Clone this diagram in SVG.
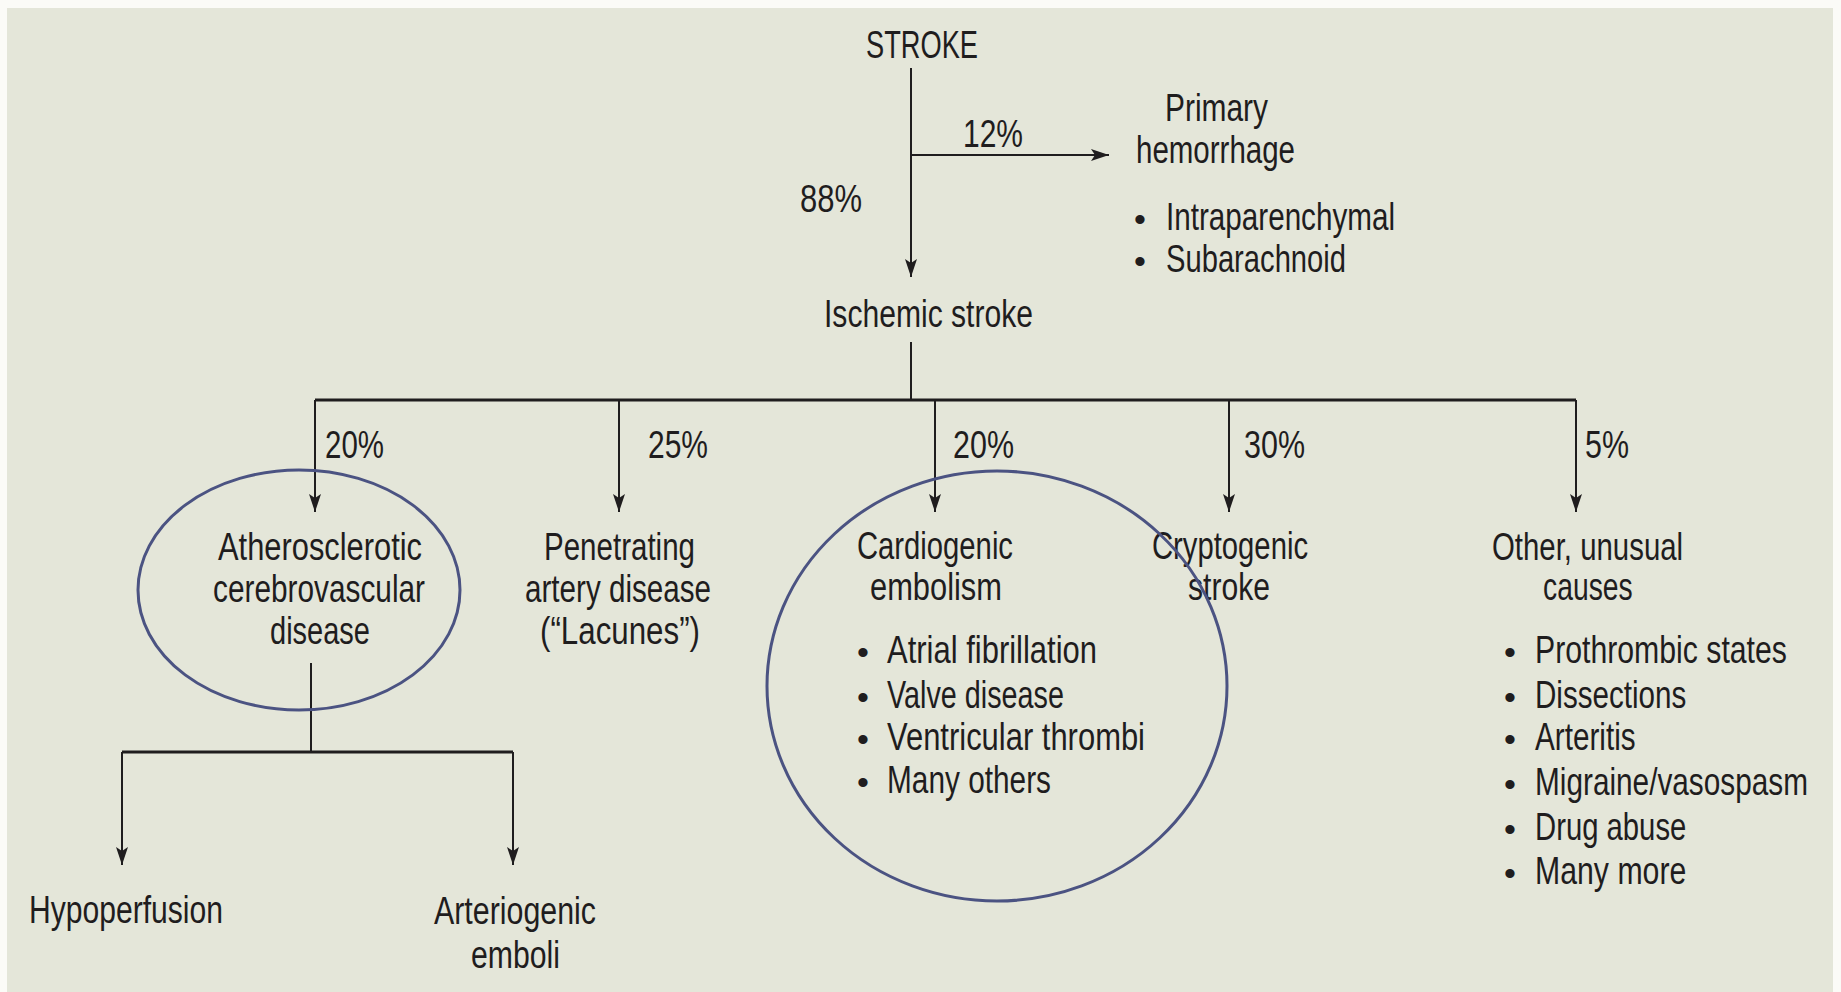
<svg xmlns="http://www.w3.org/2000/svg" width="1841" height="992" viewBox="0 0 1841 992">
<defs>
<style>
.t{font-family:"Liberation Sans",Arial,sans-serif;font-size:38px;fill:#1f1d1e;}
.b{font-family:"Liberation Sans",Arial,sans-serif;font-size:34px;fill:#1f1d1e;text-anchor:middle;}
.c{stroke:#1f1d1e;stroke-width:2;fill:none;}
.bus{stroke:#1f1d1e;stroke-width:3;fill:none;}
.ring{stroke:#4b5382;stroke-width:3;fill:none;}
</style>
<marker id="ah" viewBox="0 0 18 12" refX="18" refY="6" markerWidth="18" markerHeight="12" orient="auto" markerUnits="userSpaceOnUse">
<path d="M0,0 L18,6 L0,12 L4,6 z" fill="#1f1d1e"/>
</marker>
</defs>
<rect x="0" y="0" width="1841" height="992" fill="#fbfbf7"/>
<rect x="7" y="8" width="1826" height="984" fill="#e4e6d9"/>

<g id="connectors">
<path class="c" d="M911,68 V277" marker-end="url(#ah)"/>
<path class="c" d="M911,155 H1109" marker-end="url(#ah)"/>
<path class="c" d="M911,342 V400"/>
<path class="bus" d="M315,400 H1576"/>
<path class="c" d="M315,400 V512" marker-end="url(#ah)"/>
<path class="c" d="M619,400 V512" marker-end="url(#ah)"/>
<path class="c" d="M935,400 V512" marker-end="url(#ah)"/>
<path class="c" d="M1229,400 V512" marker-end="url(#ah)"/>
<path class="c" d="M1576,400 V512" marker-end="url(#ah)"/>
<path class="c" d="M311,663 V752"/>
<path class="bus" d="M122,752 H513"/>
<path class="c" d="M122,752 V865" marker-end="url(#ah)"/>
<path class="c" d="M513,752 V865" marker-end="url(#ah)"/>
<text class="t" x="963" y="147" textLength="60" lengthAdjust="spacingAndGlyphs">12%</text>
<text class="t" x="800" y="212" textLength="62" lengthAdjust="spacingAndGlyphs">88%</text>
<text class="t" x="325" y="458" textLength="59" lengthAdjust="spacingAndGlyphs">20%</text>
<text class="t" x="648" y="458" textLength="60" lengthAdjust="spacingAndGlyphs">25%</text>
<text class="t" x="953" y="458" textLength="61" lengthAdjust="spacingAndGlyphs">20%</text>
<text class="t" x="1244" y="458" textLength="61" lengthAdjust="spacingAndGlyphs">30%</text>
<text class="t" x="1585" y="458" textLength="44" lengthAdjust="spacingAndGlyphs">5%</text>
</g>

<g id="stroke">
<text class="t" x="866" y="58" textLength="112" lengthAdjust="spacingAndGlyphs">STROKE</text>
</g>

<g id="hemorrhage">
<text class="t" x="1165" y="121" textLength="103" lengthAdjust="spacingAndGlyphs">Primary</text>
<text class="t" x="1136" y="163" textLength="159" lengthAdjust="spacingAndGlyphs">hemorrhage</text>
<text class="b" x="1140" y="231">•</text>
<text class="t" x="1166" y="230" textLength="229" lengthAdjust="spacingAndGlyphs">Intraparenchymal</text>
<text class="b" x="1140" y="273">•</text>
<text class="t" x="1166" y="272" textLength="180" lengthAdjust="spacingAndGlyphs">Subarachnoid</text>
</g>

<g id="ischemic">
<text class="t" x="824" y="327" textLength="209" lengthAdjust="spacingAndGlyphs">Ischemic stroke</text>
</g>

<g id="atherosclerotic">
<text class="t" x="218" y="560" textLength="204" lengthAdjust="spacingAndGlyphs">Atherosclerotic</text>
<text class="t" x="213" y="602" textLength="212" lengthAdjust="spacingAndGlyphs">cerebrovascular</text>
<text class="t" x="270" y="644" textLength="100" lengthAdjust="spacingAndGlyphs">disease</text>
<ellipse class="ring" cx="299" cy="590" rx="161" ry="120"/>
</g>

<g id="penetrating">
<text class="t" x="544" y="560" textLength="151" lengthAdjust="spacingAndGlyphs">Penetrating</text>
<text class="t" x="525" y="602" textLength="186" lengthAdjust="spacingAndGlyphs">artery disease</text>
<text class="t" x="540" y="644" textLength="160" lengthAdjust="spacingAndGlyphs">(“Lacunes”)</text>
</g>

<g id="cardiogenic">
<text class="t" x="857" y="559" textLength="156" lengthAdjust="spacingAndGlyphs">Cardiogenic</text>
<text class="t" x="870" y="600" textLength="132" lengthAdjust="spacingAndGlyphs">embolism</text>
<text class="b" x="863" y="664">•</text>
<text class="t" x="887" y="663" textLength="210" lengthAdjust="spacingAndGlyphs">Atrial fibrillation</text>
<text class="b" x="863" y="709">•</text>
<text class="t" x="887" y="708" textLength="177" lengthAdjust="spacingAndGlyphs">Valve disease</text>
<text class="b" x="863" y="751">•</text>
<text class="t" x="887" y="750" textLength="258" lengthAdjust="spacingAndGlyphs">Ventricular thrombi</text>
<text class="b" x="863" y="794">•</text>
<text class="t" x="887" y="793" textLength="164" lengthAdjust="spacingAndGlyphs">Many others</text>
</g>

<g id="cryptogenic">
<text class="t" x="1152" y="559" textLength="156" lengthAdjust="spacingAndGlyphs">Cryptogenic</text>
<text class="t" x="1188" y="600" textLength="82" lengthAdjust="spacingAndGlyphs">stroke</text>
</g>

<g id="cardio-ring">
<ellipse class="ring" cx="997" cy="686" rx="230" ry="215"/>
</g>

<g id="other">
<g transform="translate(1492,560) scale(0.78,1)"><text class="t" x="0" y="0" textLength="245" lengthAdjust="spacingAndGlyphs">Other, unusual</text></g>
<g transform="translate(1543,600) scale(0.78,1)"><text class="t" x="0" y="0" textLength="115" lengthAdjust="spacingAndGlyphs">causes</text></g>
<text class="b" x="1510" y="664">•</text>
<g transform="translate(1535,663) scale(0.78,1)"><text class="t" x="0" y="0" textLength="323" lengthAdjust="spacingAndGlyphs">Prothrombic states</text></g>
<text class="b" x="1510" y="709">•</text>
<g transform="translate(1535,708) scale(0.78,1)"><text class="t" x="0" y="0" textLength="194" lengthAdjust="spacingAndGlyphs">Dissections</text></g>
<text class="b" x="1510" y="751">•</text>
<g transform="translate(1535,750) scale(0.78,1)"><text class="t" x="0" y="0" textLength="129" lengthAdjust="spacingAndGlyphs">Arteritis</text></g>
<text class="b" x="1510" y="796">•</text>
<g transform="translate(1535,795) scale(0.78,1)"><text class="t" x="0" y="0" textLength="350" lengthAdjust="spacingAndGlyphs">Migraine/vasospasm</text></g>
<text class="b" x="1510" y="841">•</text>
<g transform="translate(1535,840) scale(0.78,1)"><text class="t" x="0" y="0" textLength="194" lengthAdjust="spacingAndGlyphs">Drug abuse</text></g>
<text class="b" x="1510" y="885">•</text>
<g transform="translate(1535,884) scale(0.78,1)"><text class="t" x="0" y="0" textLength="194" lengthAdjust="spacingAndGlyphs">Many more</text></g>
</g>

<g id="hypoperfusion">
<text class="t" x="29" y="923" textLength="194" lengthAdjust="spacingAndGlyphs">Hypoperfusion</text>
</g>

<g id="arteriogenic">
<text class="t" x="434" y="924" textLength="162" lengthAdjust="spacingAndGlyphs">Arteriogenic</text>
<text class="t" x="471" y="968" textLength="89" lengthAdjust="spacingAndGlyphs">emboli</text>
</g>
</svg>
